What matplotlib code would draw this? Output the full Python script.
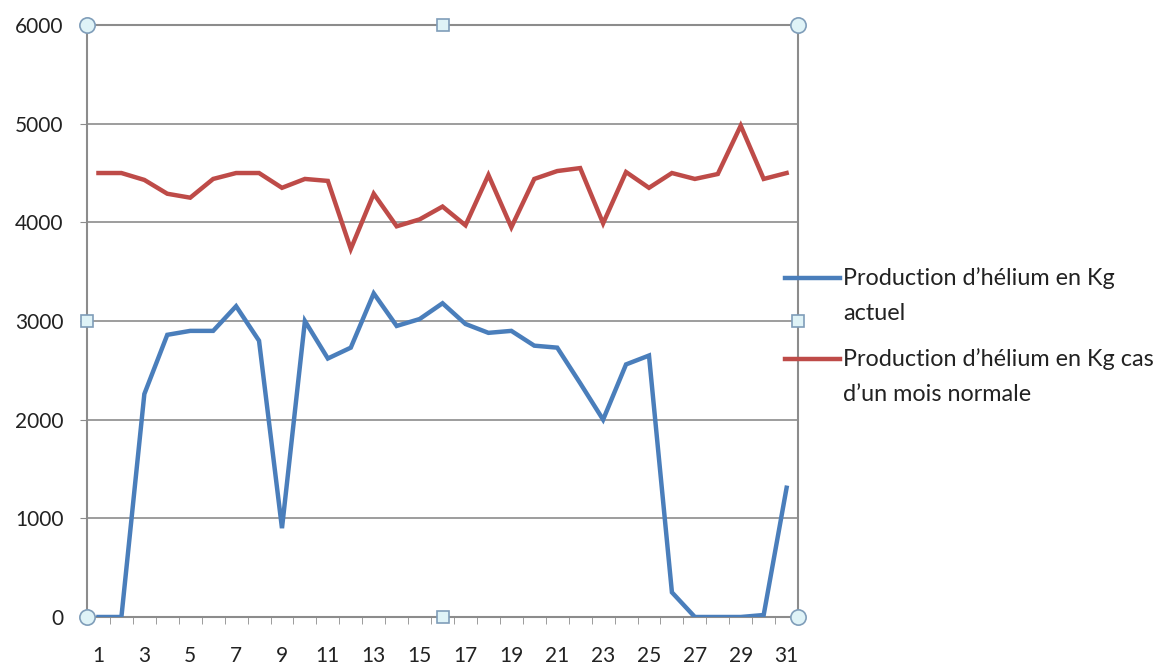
import matplotlib.pyplot as plt
from matplotlib.lines import Line2D

# production journaliere d'helium (kg) sur un mois
jours = list(range(1, 32))
helium_actuel = [0, 0, 2260, 2860, 2900, 2900, 3150, 2800, 900, 3000,
                 2620, 2730, 3280, 2950, 3020, 3180, 2970, 2880, 2900, 2750,
                 2730, 2370, 2000, 2560, 2650, 250, 0, 0, 0, 20, 1310]
helium_normal = [4500, 4500, 4430, 4290, 4250, 4440, 4500, 4500, 4350, 4440,
                 4420, 3730, 4290, 3960, 4030, 4160, 3970, 4480, 3950, 4440,
                 4520, 4550, 3990, 4510, 4350, 4500, 4440, 4490, 4980, 4440, 4500]
labels = ["Production d\u2019hélium en Kg\nactuel",
          "Production d\u2019hélium en Kg cas\nd\u2019un mois normale"]
couleurs = ['#4a7ebb', '#be4b48']
y_ticks = [0, 1000, 2000, 3000, 4000, 5000, 6000]

plt.rcParams['font.family'] = ['Lato', 'DejaVu Sans']
gris = '#8c8c8c'
W, H = 1160, 664

fig = plt.figure(figsize=(W / 100, H / 100), dpi=100)
ax = fig.add_axes([0.075, 0.0708, 0.613, 0.8915])

ax.plot(jours, helium_actuel, color=couleurs[0], lw=3.2, solid_joinstyle='miter', zorder=3)
ax.plot(jours, helium_normal, color=couleurs[1], lw=3.2, solid_joinstyle='miter', zorder=3)

ax.set_xlim(0.5, 31.5)
ax.set_ylim(0, 6000)
ax.set_yticks(y_ticks)
ax.yaxis.grid(True, color=gris, lw=1.2)
ax.set_axisbelow(True)

# libelles un jour sur deux, graduations entre les categories
ax.set_xticks(jours[::2])
ax.set_xticks([j + 0.5 for j in range(0, 32)], minor=True)
ax.tick_params(axis='x', which='major', length=0, pad=21, labelsize=15, labelcolor='#222222')
ax.tick_params(axis='x', which='minor', length=5, color=gris, direction='out')
ax.tick_params(axis='y', length=5, color=gris, labelsize=15, pad=12, labelcolor='#222222')
for s in ax.spines.values():
    s.set_color(gris)
    s.set_linewidth(1.5)

# poignees de selection de la zone de tracage
for x, y, m in [(0, 0, 'o'), (1, 0, 'o'), (0, 1, 'o'), (1, 1, 'o'),
                (0.5, 0, 's'), (0.5, 1, 's'), (0, 0.5, 's'), (1, 0.5, 's')]:
    ax.plot(x, y, marker=m, ms=11 if m == 'o' else 8, mfc='#dff3f7', mec='#7f9db9',
            mew=1.2, transform=ax.transAxes, clip_on=False, zorder=5)

# legende a droite, trait aligne sur la premiere ligne du libelle
for k, (lab, c) in enumerate(zip(labels, couleurs)):
    y0 = 278 + k * 81
    fig.add_artist(Line2D([785 / W, 840 / W], [1 - y0 / H] * 2, color=c, lw=3.2))
    for i, ligne in enumerate(lab.split('\n')):
        fig.text(843 / W, 1 - (y0 + 7 + i * 35) / H, ligne, fontsize=16.8,
                 color='#222222', va='baseline', ha='left')

fig.savefig('out.png', dpi=100)
